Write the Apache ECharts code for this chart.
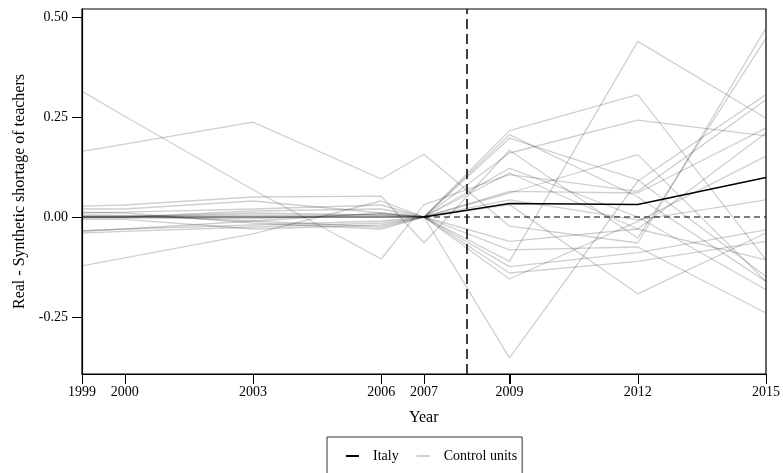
<!DOCTYPE html>
<html>
<head>
<meta charset="utf-8">
<script src="https://cdn.jsdelivr.net/npm/echarts@6/dist/echarts.min.js"></script>
<style>html,body{margin:0;padding:0;background:#fff}#c{width:783px;height:473px}</style>
</head>
<body>
<div id="c"></div>
<script>
// Years shown on the x axis
var years = [1999, 2000, 2003, 2006, 2007, 2009, 2012, 2015];
var yTicks = [-0.25, 0, 0.25, 0.5];
var treatmentYear = 2008;

// Italy (treated unit), gap shown from 2007 on
var italyYears = [2007, 2009, 2012, 2015];
var italy = [0, 0.034, 0.031, 0.099];

// Zero reference segment
var zeroYears = [2007, 2015];
var zeroVals = [0, 0];

// Control units (placebo gaps), values at the years above
var c1 = [0.314, 0.252, 0.068, -0.105, 0.031, 0.106, 0.064, 0.293];
var c2 = [0.164, 0.182, 0.237, 0.095, 0.157, -0.023, -0.065, 0.472];
var c3 = [-0.122, -0.102, -0.042, 0.040, 0, 0.197, 0.093, -0.149];
var c4 = [0.027, 0.030, 0.050, 0.052, -0.065, 0.167, -0.053, 0.447];
var c5 = [0, 0, 0, 0, 0, 0.216, 0.306, -0.107];
var c6 = [-0.035, -0.030, -0.020, -0.010, 0, -0.352, 0.090, 0.306];
var c7 = [0.010, 0.012, 0.020, 0.030, 0, -0.111, 0.439, 0.247];
var c8 = [0, 0, 0, 0, 0, 0.160, 0.242, 0.203];
var c9 = [-0.040, -0.036, -0.025, -0.015, 0, 0.060, 0.156, -0.161];
var c10 = [0, 0, 0, 0, 0, 0.031, -0.192, -0.040];
var c11 = [0.005, 0.004, -0.010, -0.025, 0, 0.122, 0.000, -0.182];
var c12 = [0.003, 0.003, 0.005, 0.004, 0, 0.110, -0.030, 0.210];
var c13 = [0.012, 0.010, -0.015, -0.030, 0, -0.082, -0.075, -0.240];
var c14 = [0, 0, 0.010, 0.005, 0, 0.064, 0.060, 0.222];
var c15 = [-0.006, -0.006, -0.030, -0.020, 0, -0.124, -0.089, -0.032];
var c16 = [-0.003, -0.003, -0.004, 0.008, 0, -0.140, -0.111, -0.061];
var c17 = [-0.035, -0.030, -0.010, 0.010, 0, -0.155, -0.011, 0.152];
var c18 = [0, 0, 0, 0, 0, 0.043, -0.007, 0.043];
var c19 = [0, 0, 0.015, 0.020, 0, 0.206, 0.050, -0.161];
var c20 = [0.020, 0.020, 0.040, 0.010, 0, -0.061, -0.030, -0.107];
var controls = [c1,c2,c3,c4,c5,c6,c7,c8,c9,c10,c11,c12,c13,c14,c15,c16,c17,c18,c19,c20];

var FONT = 'Liberation Serif';
var Y_MIN = -0.3925, Y_MAX = 0.52;
function pairs(xs, ys){ return xs.map(function(x,i){ return [x, ys[i]]; }); }

var series = controls.map(function(c){
  return {
    name: 'Control units', type: 'line', data: pairs(years, c),
    showSymbol: false, symbol: 'none', silent: true,
    lineStyle: { color: 'rgba(0,0,0,0.19)', width: 1.3 },
    itemStyle: { color: '#cfcfcf' }
  };
});
series.push({
  name: 'zero', type: 'line', data: pairs(zeroYears, zeroVals),
  showSymbol: false, symbol: 'none', silent: true,
  lineStyle: { color: '#000', width: 1.2, type: [6, 4] }
});
series.push({
  name: 'Italy', type: 'line', data: pairs(italyYears, italy),
  showSymbol: false, symbol: 'none', silent: true,
  lineStyle: { color: '#000', width: 1.5 },
  itemStyle: { color: '#000' },
  markLine: {
    silent: true, symbol: 'none', label: { show: false },
    lineStyle: { color: '#000', width: 1.5, type: [10, 5] },
    data: [{ xAxis: treatmentYear }]
  }
});
// x-axis tick marks, positioned through the axis scale
series.push({
  name: 'xticks', type: 'custom', silent: true, clip: false, z: 10,
  data: years.map(function(y){ return [y, Y_MIN]; }),
  encode: { x: 0, y: 1 },
  renderItem: function(params, api){
    var p = api.coord([api.value(0), api.value(1)]);
    var x = Math.round(p[0]) + 0.5;
    return { type: 'line', shape: { x1: x, y1: p[1], x2: x, y2: p[1] + 10 },
      style: { stroke: '#000', lineWidth: 1 } };
  }
});

var chart = echarts.init(document.getElementById('c'));
chart.setOption({
  animation: false,
  title: {
    text: 'Year', left: 409, top: 410, padding: 0,
    textStyle: { fontFamily: FONT, fontSize: 16, fontWeight: 'normal', color: '#000' }
  },
  grid: { left: 82, right: 17, top: 9, bottom: 99, show: true, borderColor: '#000', borderWidth: 1.2 },
  xAxis: {
    type: 'value', min: 1999, max: 2015,
    axisLine: { show: true, onZero: false, lineStyle: { color: '#000' } },
    axisTick: { show: true, length: 10, customValues: years, lineStyle: { color: '#000' } },
    axisLabel: { customValues: years, margin: 11, fontFamily: FONT, fontSize: 14, color: '#000',
      formatter: function(v){ return String(v); } },
    splitLine: { show: false }
  },
  yAxis: {
    type: 'value', min: Y_MIN, max: Y_MAX,
    name: 'Real - Synthetic shortage of teachers', nameLocation: 'middle', nameGap: 45,
    nameTextStyle: { fontFamily: FONT, fontSize: 16, color: '#000' },
    axisLine: { show: true, lineStyle: { color: '#000', width: 1.2 } },
    axisTick: { show: true, length: 10, customValues: yTicks, lineStyle: { color: '#000' } },
    axisLabel: { customValues: yTicks, margin: 14, fontFamily: FONT, fontSize: 14, color: '#000',
      formatter: function(v){ return v.toFixed(2); } },
    splitLine: { show: false }
  },
  legend: {
    left: 327, top: 437, orient: 'horizontal',
    padding: [12, 5, 60, 19],
    borderColor: '#333', borderWidth: 1,
    icon: 'rect', itemWidth: 13, itemHeight: 2, itemGap: 18,
    textStyle: { fontFamily: FONT, fontSize: 14, color: '#000', padding: [0, 0, 0, 9] },
    data: [
      { name: 'Italy', itemStyle: { color: '#000' } },
      { name: 'Control units', itemStyle: { color: '#cfcfcf' } }
    ]
  },
  series: series
});
</script>
</body>
</html>
